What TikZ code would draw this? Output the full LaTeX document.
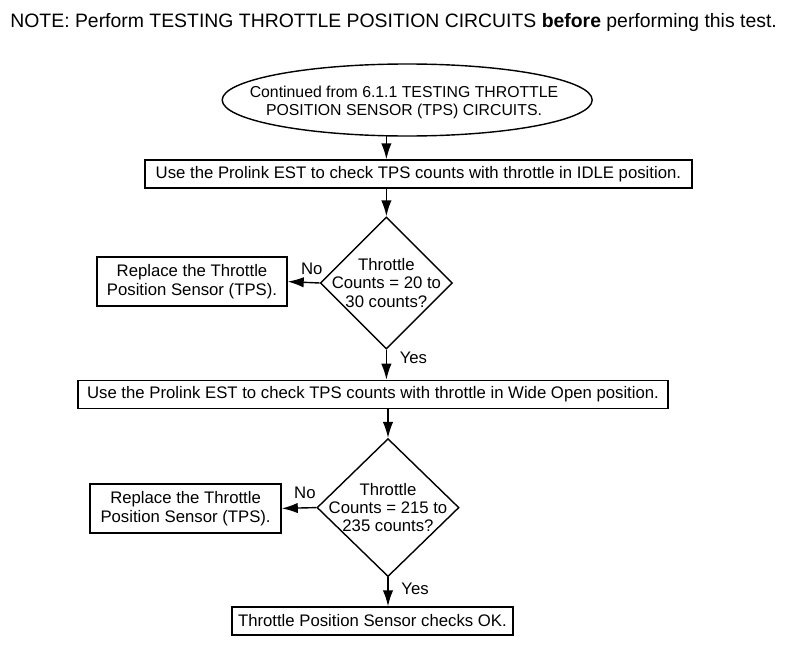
\documentclass[tikz,border=0pt]{standalone}
\usepackage{fontspec}
\setmainfont{Liberation Sans}
\usetikzlibrary{shapes.geometric, arrows.meta}

\begin{document}
\begin{tikzpicture}[
        txt/.style={font=\fontsize{11.9}{13}\selectfont},
        stepbox/.style={rectangle, draw, line width=1pt, minimum height=0.7cm, inner sep=0pt, txt},
        sidebox/.style={rectangle, draw, line width=1pt, minimum height=1.225cm, minimum width=4.75cm, inner sep=0pt, align=center, font=\fontsize{11.9}{13.6}\selectfont},
        check/.style={diamond, draw, line width=1pt, minimum width=3.3cm, minimum height=3.3cm, inner sep=-6pt, align=center, txt},
        flow/.style={-{Latex[length=4mm, width=2.6mm]}, line width=1pt}
    ]
    \useasboundingbox (0,0) rectangle (20,-16.25);

    % Note
    \node[font=\fontsize{13.8}{16}\selectfont] (note) at (9.84, -0.55) {NOTE: Perform TESTING THROTTLE POSITION CIRCUITS \textbf{before} performing this test.};

    % Start
    \node[align=center, font=\fontsize{11.25}{12.8}\selectfont] (start) at (10.1, -2.55) {Continued from 6.1.1 TESTING THROTTLE\\POSITION SENSOR (TPS) CIRCUITS.};
    \draw[line width=1pt] (10.18, -2.5) ellipse [x radius=4.625cm, y radius=0.9cm];
    \coordinate (startbot) at (9.66, -3.38);

    % Idle check
    \node[stepbox, minimum width=13.675cm] (idle) at (10.46, -4.35) {Use the Prolink EST to check TPS counts with throttle in IDLE position.};
    \node[check] (idleq) at (9.66, -7.075) {Throttle\\Counts = 20 to\\30 counts?};
    \node[sidebox] (idlefix) at (4.8, -7.04) {Replace the Throttle\\Position Sensor (TPS).};

    % Wide open check
    \node[stepbox, minimum width=14.75cm] (wot) at (9.325, -9.86) {Use the Prolink EST to check TPS counts with throttle in Wide Open position.};
    \node[check, minimum width=3.55cm, minimum height=3.45cm] (wotq) at (9.7, -12.69) {Throttle\\Counts = 215 to\\235 counts?};
    \node[sidebox, minimum width=4.775cm] (wotfix) at (4.64, -12.71) {Replace the Throttle\\Position Sensor (TPS).};

    \node[stepbox, minimum width=7.025cm] (ok) at (9.31, -15.525) {Throttle Position Sensor checks OK.};

    \draw[flow] (startbot) -- (idle.north -| startbot);
    \draw[flow] (idle.south -| idleq.north) -- (idleq.north);
    \draw[flow] (idleq.west) -- node[above, pos=0.25, yshift=2pt, txt] {No} (idlefix.east);
    \draw[flow] (idleq.south) -- node[right, pos=0.28, xshift=0.2cm, txt] {Yes} (idleq.south |- wot.north);
    \draw[flow] (wot.south -| wotq.north) -- (wotq.north);
    \draw[flow] (wotq.west) -- node[above, pos=0.33, yshift=3pt, txt] {No} (wotfix.east);
    \draw[flow] (wotq.south) -- node[right, pos=0.38, xshift=0.2cm, txt] {Yes} (wotq.south |- ok.north);
\end{tikzpicture}
\end{document}
